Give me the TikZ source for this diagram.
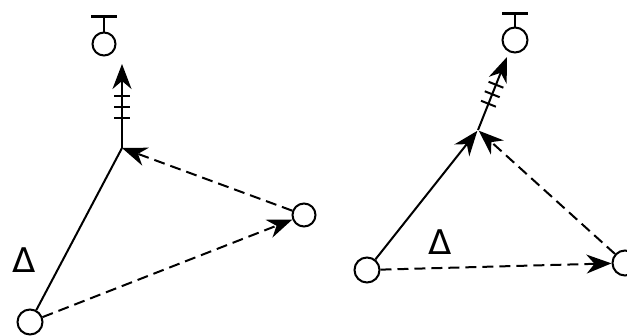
\documentclass[tikz,border=0pt]{standalone}
\usepackage{fontspec}
\newfontfamily\deltafont{DejaVu Sans}
\usetikzlibrary{arrows.meta,calc}
\begin{document}
\begin{tikzpicture}[x=1pt,y=-1pt,
    stn/.style={draw,circle,line width=2pt,minimum size=23pt,inner sep=0pt},
    flow/.style={line width=2pt},
    dashflow/.style={flow,dash pattern=on 11pt off 6pt},
    tip/.style={-{Stealth[length=25pt,width=19pt,inset=8pt]}},
    delta/.style={font=\deltafont\fontsize{34}{34}\selectfont,inner sep=0pt}]
  \useasboundingbox (0,0) rectangle (627,335);
  % left picture
  \node[stn] (lt) at (104,44) {};
  \node[stn] (lr) at (304,215) {};
  \node[stn,minimum size=25pt] (lb) at (30,322) {};
  \coordinate (lj) at (122,148);
  \coordinate (la) at (122,64);
  \node[delta] (ld) at (24,260) {Δ};
  \draw[flow] (lt.north) -- ++(0,-15) coordinate (ltb);
  \draw[line width=3.4pt] ($(ltb)+(-13,0)$) -- ($(ltb)+(13,0)$);
  \draw[flow,tip] (lj) -- (la);
  \foreach \t in {0.36,0.49,0.62}
    \draw[flow] ($(lj)!\t!(la)$) coordinate (h) ($(h)!8pt!90:(la)$) -- ($(h)!8pt!-90:(la)$);
  \draw[flow] (lb) -- (lj);
  \draw[dashflow,tip] (lr) -- (lj);
  \draw[dashflow,tip] (lb) -- (lr);
  % right picture
  \node[stn,minimum size=25pt] (rt) at (515,40) {};
  \node[stn,minimum size=25pt] (rl) at (367,270) {};
  \node[stn,minimum size=25pt] (rr) at (625,263) {};
  \coordinate (rj) at (478,130);
  \coordinate (ra) at (507,57);
  \node[delta] (rd) at (440,242) {Δ};
  \draw[flow] (rt.north) -- ++(0,-13) coordinate (rtb);
  \draw[line width=3.4pt] ($(rtb)+(-13,0)$) -- ($(rtb)+(13,0)$);
  \draw[flow,tip] (rj) -- (ra);
  \foreach \t in {0.36,0.49,0.62}
    \draw[flow] ($(rj)!\t!(ra)$) coordinate (h) ($(h)!8pt!90:(ra)$) -- ($(h)!8pt!-90:(ra)$);
  \draw[flow,tip,shorten >=1pt] (rl) -- (rj);
  \draw[dashflow,tip,shorten >=1pt] (rr) -- (rj);
  \draw[dashflow,tip] (rl) -- (rr);
\end{tikzpicture}
\end{document}
